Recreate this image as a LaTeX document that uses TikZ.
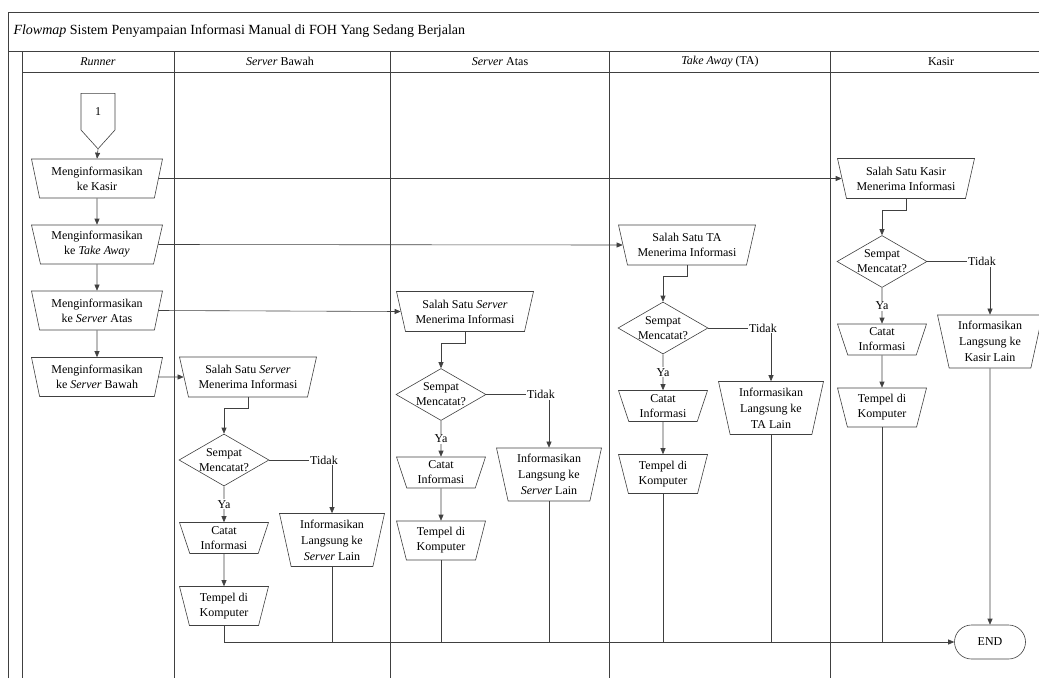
\documentclass[tikz,border=0pt]{standalone}
\usepackage{fontspec}
\setmainfont{Liberation Serif}
\usepackage{tikz}
\usetikzlibrary{arrows.meta, positioning, shapes.geometric, shapes.symbols}

\tikzset{
  base/.style={draw=black!75, line width=0.6pt, align=center, inner sep=0pt,
               font=\fontsize{12}{15}\selectfont},
  manual/.style={base, trapezium, shape border rotate=180, trapezium stretches body,
                 trapezium left angle=#1, trapezium right angle=#1},
  manual/.default=70,
  runnerbox/.style={manual=71, minimum width=131pt, minimum height=39pt},
  receive/.style={manual=69, minimum width=137pt, minimum height=40pt},
  catat/.style={manual=66, minimum width=89pt, minimum height=31pt},
  tempel/.style={manual=69, minimum width=89pt, minimum height=39pt},
  inform/.style={manual=74, minimum width=105pt, minimum height=53pt,
                 font=\fontsize{12}{16}\selectfont},
  decision/.style={base, diamond, minimum width=90pt, minimum height=52pt},
  lbl/.style={align=center, inner sep=1pt, font=\fontsize{12}{15}\selectfont},
  offpage/.style={base, signal, signal to=south, signal pointer angle=84,
                  minimum width=34pt, minimum height=40pt},
  terminal/.style={base, rounded corners=17pt, minimum width=71pt, minimum height=34pt},
  flow/.style={draw=black!75, line width=0.6pt, -{Triangle[length=6pt,width=5pt]}},
  link/.style={draw=black!75, line width=0.6pt},
  frame/.style={draw=black!75, line width=0.9pt}
}

\begin{document}
\begin{tikzpicture}[x=1pt, y=-1pt]
  \useasboundingbox (0,0) rectangle (1039,678);

  % frame, title row and lanes
  \draw[frame] (8,678) -- (8,12) -- (1039,12);
  \draw[frame] (8,51) -- (1039,51);
  \draw[frame] (22,72) -- (1039,72);
  \draw[frame] (22,51) -- (22,678);
  \foreach \x in {174, 390, 609, 830}
    \draw[frame] (\x,51) -- (\x,678);
  \node[anchor=west, font=\fontsize{14}{16}\selectfont] (title) at (10,31)
    {\textit{Flowmap} Sistem Penyampaian Informasi Manual di FOH Yang Sedang Berjalan};
  \foreach \x/\name [count=\i] in {98/{\textit{Runner}}, 280/{\textit{Server} Bawah},
                                  500/{\textit{Server} Atas}, 720/{\textit{Take Away} (TA)},
                                  941/Kasir}
    \node[lbl] (lane\i) at (\x,61.5) {\name};

  % runner
  \node[offpage, anchor=north] (con1) at (98,93) {1};
  \node[runnerbox] (m1) at (97,178.5) {Menginformasikan\\ke Kasir};
  \node[runnerbox] (m2) at (97,244.5) {Menginformasikan\\ke \textit{Take Away}};
  \node[runnerbox] (m3) at (97,310.5) {Menginformasikan\\ke \textit{Server} Atas};
  \node[runnerbox] (m4) at (97,377) {Menginformasikan\\ke \textit{Server} Bawah};
  \draw[flow] (con1.south) -- (m1.north);
  \draw[flow] (m1) -- (m2);
  \draw[flow] (m2) -- (m3);
  \draw[flow] (m3) -- (m4);

  % receiving lanes
  \foreach \n/\x/\y/\who in {bawah/248/377/{\textit{Server}}, atas/465/311.5/{\textit{Server}},
                             ta/687/245/TA, kasir/906/178.5/Kasir} {
    \node[receive] (r-\n) at (\x,\y) {Salah Satu \who\\Menerima Informasi};
    \node[decision, label={[lbl]center:{Sempat\\Mencatat?}}] (d-\n) at (\x-24,\y+83) {};
    \node[catat] (c-\n) at (\x-24,\y+161) {Catat\\Informasi};
    \node[tempel] (t-\n) at (\x-24,\y+229) {Tempel di\\Komputer};
    \node[inform] (i-\n) at (\x+84,\y+163) {Informasikan\\Langsung ke\\\who{} Lain};
    \node[lbl] (no-\n) at (\x+76,\y+83) {Tidak};
    \draw[flow] (r-\n.south) -- ++(0,11) -| (d-\n.north);
    \draw[flow] (d-\n.south) -- node[lbl, fill=white] (ya-\n) {Ya} (c-\n.north);
    \draw[flow] (c-\n) -- (t-\n);
    \draw[link] (d-\n.east) -- (no-\n.west);
    \draw[flow] (no-\n.south -| i-\n.north) -- (i-\n.north);
  }
  \draw[flow] (m1.east) -- (r-kasir.west);
  \draw[flow] (m2.east) -- (r-ta.west);
  \draw[flow] (m3.east) -- (r-atas.west);
  \draw[flow] (m4.east) -- (r-bawah.west);

  % end
  \node[terminal] (end) at (990,642) {END};
  \draw[flow] (t-bawah.south) |- (end.west);
  \foreach \n in {atas, ta, kasir}
    \draw[link] (t-\n.south) -- (t-\n.south |- end.west);
  \foreach \n in {bawah, atas, ta}
    \draw[link] (i-\n.south) -- (i-\n.south |- end.west);
  \draw[flow] (i-kasir.south) -- (end.north);
\end{tikzpicture}
\end{document}
